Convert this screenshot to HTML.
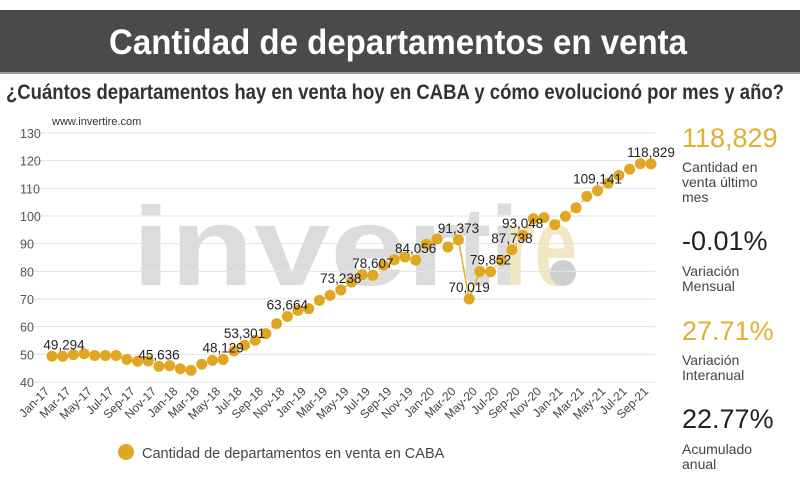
<!DOCTYPE html>
<html><head><meta charset="utf-8"><style>
body{margin:0;width:800px;height:474px;background:#fff;overflow:hidden;font-family:"Liberation Sans",sans-serif}
</style></head><body>
<svg width="800" height="474" viewBox="0 0 800 474">
<rect x="0" y="10" width="800" height="63" fill="#4a4a4a"/>
<rect x="0" y="72" width="800" height="2" fill="#9a9a9a"/>
<text x="398" y="54" text-anchor="middle" fill="#fff" font-size="35" font-weight="bold" textLength="578" lengthAdjust="spacingAndGlyphs">Cantidad de departamentos en venta</text>
<text x="6" y="99" fill="#333" font-size="21" font-weight="bold" textLength="778" lengthAdjust="spacingAndGlyphs">¿Cuántos departamentos hay en venta hoy en CABA y cómo evolucionó por mes y año?</text>
<g font-weight="bold" font-size="112">
<text x="132" y="285" fill="#dcdcdc" textLength="328" lengthAdjust="spacingAndGlyphs">inver</text>
<text x="458" y="285" fill="#dcdcdc" textLength="60" lengthAdjust="spacingAndGlyphs">ti</text>
<text x="505" y="285" fill="#f3e6c2" textLength="72" lengthAdjust="spacingAndGlyphs">re</text>
<circle cx="563" cy="273" r="13" fill="#cfcfcf"/>
</g>
<text x="52" y="125" fill="#333" font-size="11">www.invertire.com</text>
<g id="grid"></g><g id="plot"></g>
<g>
<circle cx="126" cy="452" r="8" fill="#e0a722"/>
<text x="142" y="458" fill="#444" font-size="14.5">Cantidad de departamentos en venta en CABA</text>
</g>
<g font-size="14" fill="#444">
<text x="682" y="147" font-size="27" fill="#e0b030">118,829</text>
<text x="682" y="172">Cantidad en</text>
<text x="682" y="187">venta último</text>
<text x="682" y="202">mes</text>
<text x="682" y="250" font-size="27" fill="#222">-0.01%</text>
<text x="682" y="276">Variación</text>
<text x="682" y="291">Mensual</text>
<text x="682" y="340" font-size="27" fill="#e0b030">27.71%</text>
<text x="682" y="365">Variación</text>
<text x="682" y="380">Interanual</text>
<text x="682" y="428" font-size="27" fill="#222">22.77%</text>
<text x="682" y="454">Acumulado</text>
<text x="682" y="469">anual</text>
</g>
</svg>
<script>
const months=["Jan","Feb","Mar","Apr","May","Jun","Jul","Aug","Sep","Oct","Nov","Dec"];
const values=[49.294,49.3,49.9,50.2,49.6,49.6,49.6,48.2,47.5,47.6,45.636,45.9,44.8,44.2,46.4,47.8,48.129,51.2,53.301,55.1,57.5,61.1,63.664,65.9,66.5,69.5,71.3,73.238,76.1,78.8,78.607,82.2,84.2,85.2,84.056,89.8,91.7,88.8,91.373,70.019,80.0,79.852,84.0,87.738,93.048,99.0,99.4,96.9,99.9,103.0,107.1,109.141,111.9,114.7,116.9,118.9,118.829];
const labeled=[0,10,16,18,22,27,30,34,38,39,41,43,44,51,56];
const yTicks=[40,50,60,70,80,90,100,110,120,130];
const NS="http://www.w3.org/2000/svg";
const X0=52,X1=651,Y40=382,Y130=133;
const xs=i=>X0+(X1-X0)*i/(values.length-1);
const ys=v=>Y40-(v-40)*(Y40-Y130)/90;
function mk(t,a,p){const e=document.createElementNS(NS,t);for(const k in a)e.setAttribute(k,a[k]);p.appendChild(e);return e;}
const grid=document.getElementById('grid'),plot=document.getElementById('plot');
yTicks.forEach(v=>{
 const l=mk('line',{x1:20,x2:655,y1:ys(v),y2:ys(v),stroke:'#e2e2e2','stroke-width':1},grid);
 
 
 const t=mk('text',{x:20,y:ys(v)+5,'font-size':12.5,fill:'#555'},grid);t.textContent=v;
 
 
});
values.forEach((v,i)=>{
 if(i%2)return;
 const lab=months[i%12]+"-"+(17+Math.floor(i/12));
 const t=mk('text',{x:xs(i)-2,y:392,'font-size':12,fill:'#444','text-anchor':'end',transform:`rotate(-45 ${xs(i)-2} 392)`},grid);t.textContent=lab;
 
 
});
const pts=values.map((v,i)=>xs(i)+","+ys(v)).join(" ");
const pl=mk('polyline',{points:pts,fill:'none',stroke:'#e0b030','stroke-width':1.5,'stroke-dasharray':'2 3'},plot);


const s=mk('polyline',{points:[37,38,39,40,41].map(i=>xs(i)+","+ys(values[i])).join(" "),fill:'none',stroke:'#e0b030','stroke-width':1.5},plot);


values.forEach((v,i)=>{
 const c=mk('circle',{cx:xs(i),cy:ys(v),r:5.5,fill:'#e0a722'},plot);
 
 
});
labeled.forEach(i=>{
 const v=values[i];
 const txt=Math.round(v*1000).toLocaleString('en-US');
 const t=mk('text',{x:xs(i),y:ys(v)-7,'font-size':13.5,fill:'#222','text-anchor':'middle'},plot);
 if(i==0)t.setAttribute('x',xs(i)+12);
 t.textContent=txt;
 
 
});
</script>
</body></html>
